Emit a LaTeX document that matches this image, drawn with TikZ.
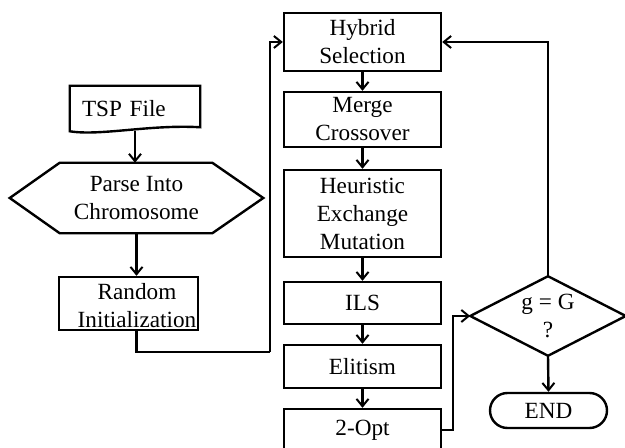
\documentclass[tikz,border=0pt]{standalone}
\usepackage{fontspec}
\setmainfont{Liberation Serif}
\usetikzlibrary{arrows.meta,calc,shapes.misc}

\tikzset{
  lbl/.style={align=center, inner sep=0pt, font=\fontsize{17.4}{21}\selectfont},
  stepbox/.style={lbl, draw, line width=1.8pt, minimum width=117.75pt},
  outline/.style={draw, line width=1.8pt, line join=miter},
  arr/.style={line width=1.8pt, -{Straight Barb[length=5.5pt,width=9pt,line width=1.5pt]}},
  link/.style={line width=1.8pt}
}

\begin{document}
\begin{tikzpicture}[x=0.75pt, y=-0.75pt]
  \clip (0,0) rectangle (625,448);
  \fill[white] (0,0) rectangle (625,448);

  % input side
  \node[lbl, minimum height=33.75pt, inner xsep=9pt, text width=79.5pt, align=left] (tsp) at (135,108.5) {TSP File};
  \draw[outline] (tsp.south west) -- (tsp.north west) -- (tsp.north east)
    -- ($(tsp.south east)+(0,-4)$)
    .. controls ($(tsp.south east)+(-50,-7)$) and ($(tsp.south west)+(30,5)$) .. (tsp.south west) -- cycle;

  \node[lbl, minimum width=189.75pt, minimum height=52.5pt] (parse) at (136.5,198) {Parse Into\\Chromosome};
  \draw[outline] (parse.west) -- ($(parse.north west)+(50,0)$) -- ($(parse.north east)+(-51,0)$)
    -- (parse.east) -- ($(parse.south east)+(-51,0)$) -- ($(parse.south west)+(50,0)$) -- cycle;

  \node[outline, minimum width=104.25pt, minimum height=39.75pt, inner sep=0pt] (rinit) at (128.5,303.5) {};
  \node[lbl] (rinittxt) at (137,306) {Random\\Initialization};

  % main column
  \node[stepbox, minimum height=43.5pt]  (hyb)   at (362.5,42)    {Hybrid\\Selection};
  \node[stepbox, minimum height=41.25pt] (merge) at (362.5,119.5) {Merge\\Crossover};
  \node[stepbox, minimum height=65.25pt] (heur)  at (362.5,213.5) {Heuristic\\Exchange\\Mutation};
  \node[stepbox, minimum height=31.5pt]  (ils)   at (362.5,303)   {ILS};
  \node[stepbox, minimum height=32.25pt] (elit)  at (362.5,366.5) {Elitism};
  \node[stepbox, minimum height=31.5pt]  (opt)   at (362.5,430)   {2-Opt};

  % decision and end
  \node[lbl, minimum width=116.25pt, minimum height=59.25pt] (dec) at (548,316) {g = G\\?};
  \draw[outline] (dec.west) -- (dec.north) -- (dec.east) -- (dec.south) -- cycle;
  \node[lbl, draw, line width=1.8pt, rounded rectangle, minimum width=87.75pt, minimum height=26.25pt] (endn) at (548.5,410.5) {END};

  % connectors
  \coordinate (loopL) at (270,352);
  \coordinate (jog) at (453,430);

  \draw[arr] (tsp.south) -- (tsp.south |- parse.north);
  \draw[arr] (parse.south) -- (parse.south |- rinit.north);
  \draw[link] (parse.south |- rinit.south) |- (loopL);
  \draw[arr] (loopL) |- (hyb.west);

  \draw[arr] (hyb.south) -- (merge.north);
  \draw[arr] (merge.south) -- (heur.north);
  \draw[arr] (heur.south) -- (ils.north);
  \draw[arr] (ils.south) -- (elit.north);
  \draw[arr] (elit.south) -- (opt.north);

  \draw[arr] (opt.east) -| (jog |- dec.west) -- (dec.west);
  \draw[arr] (dec.north) |- (hyb.east);
  \draw[arr] (dec.south) -- (endn.north);
\end{tikzpicture}
\end{document}
